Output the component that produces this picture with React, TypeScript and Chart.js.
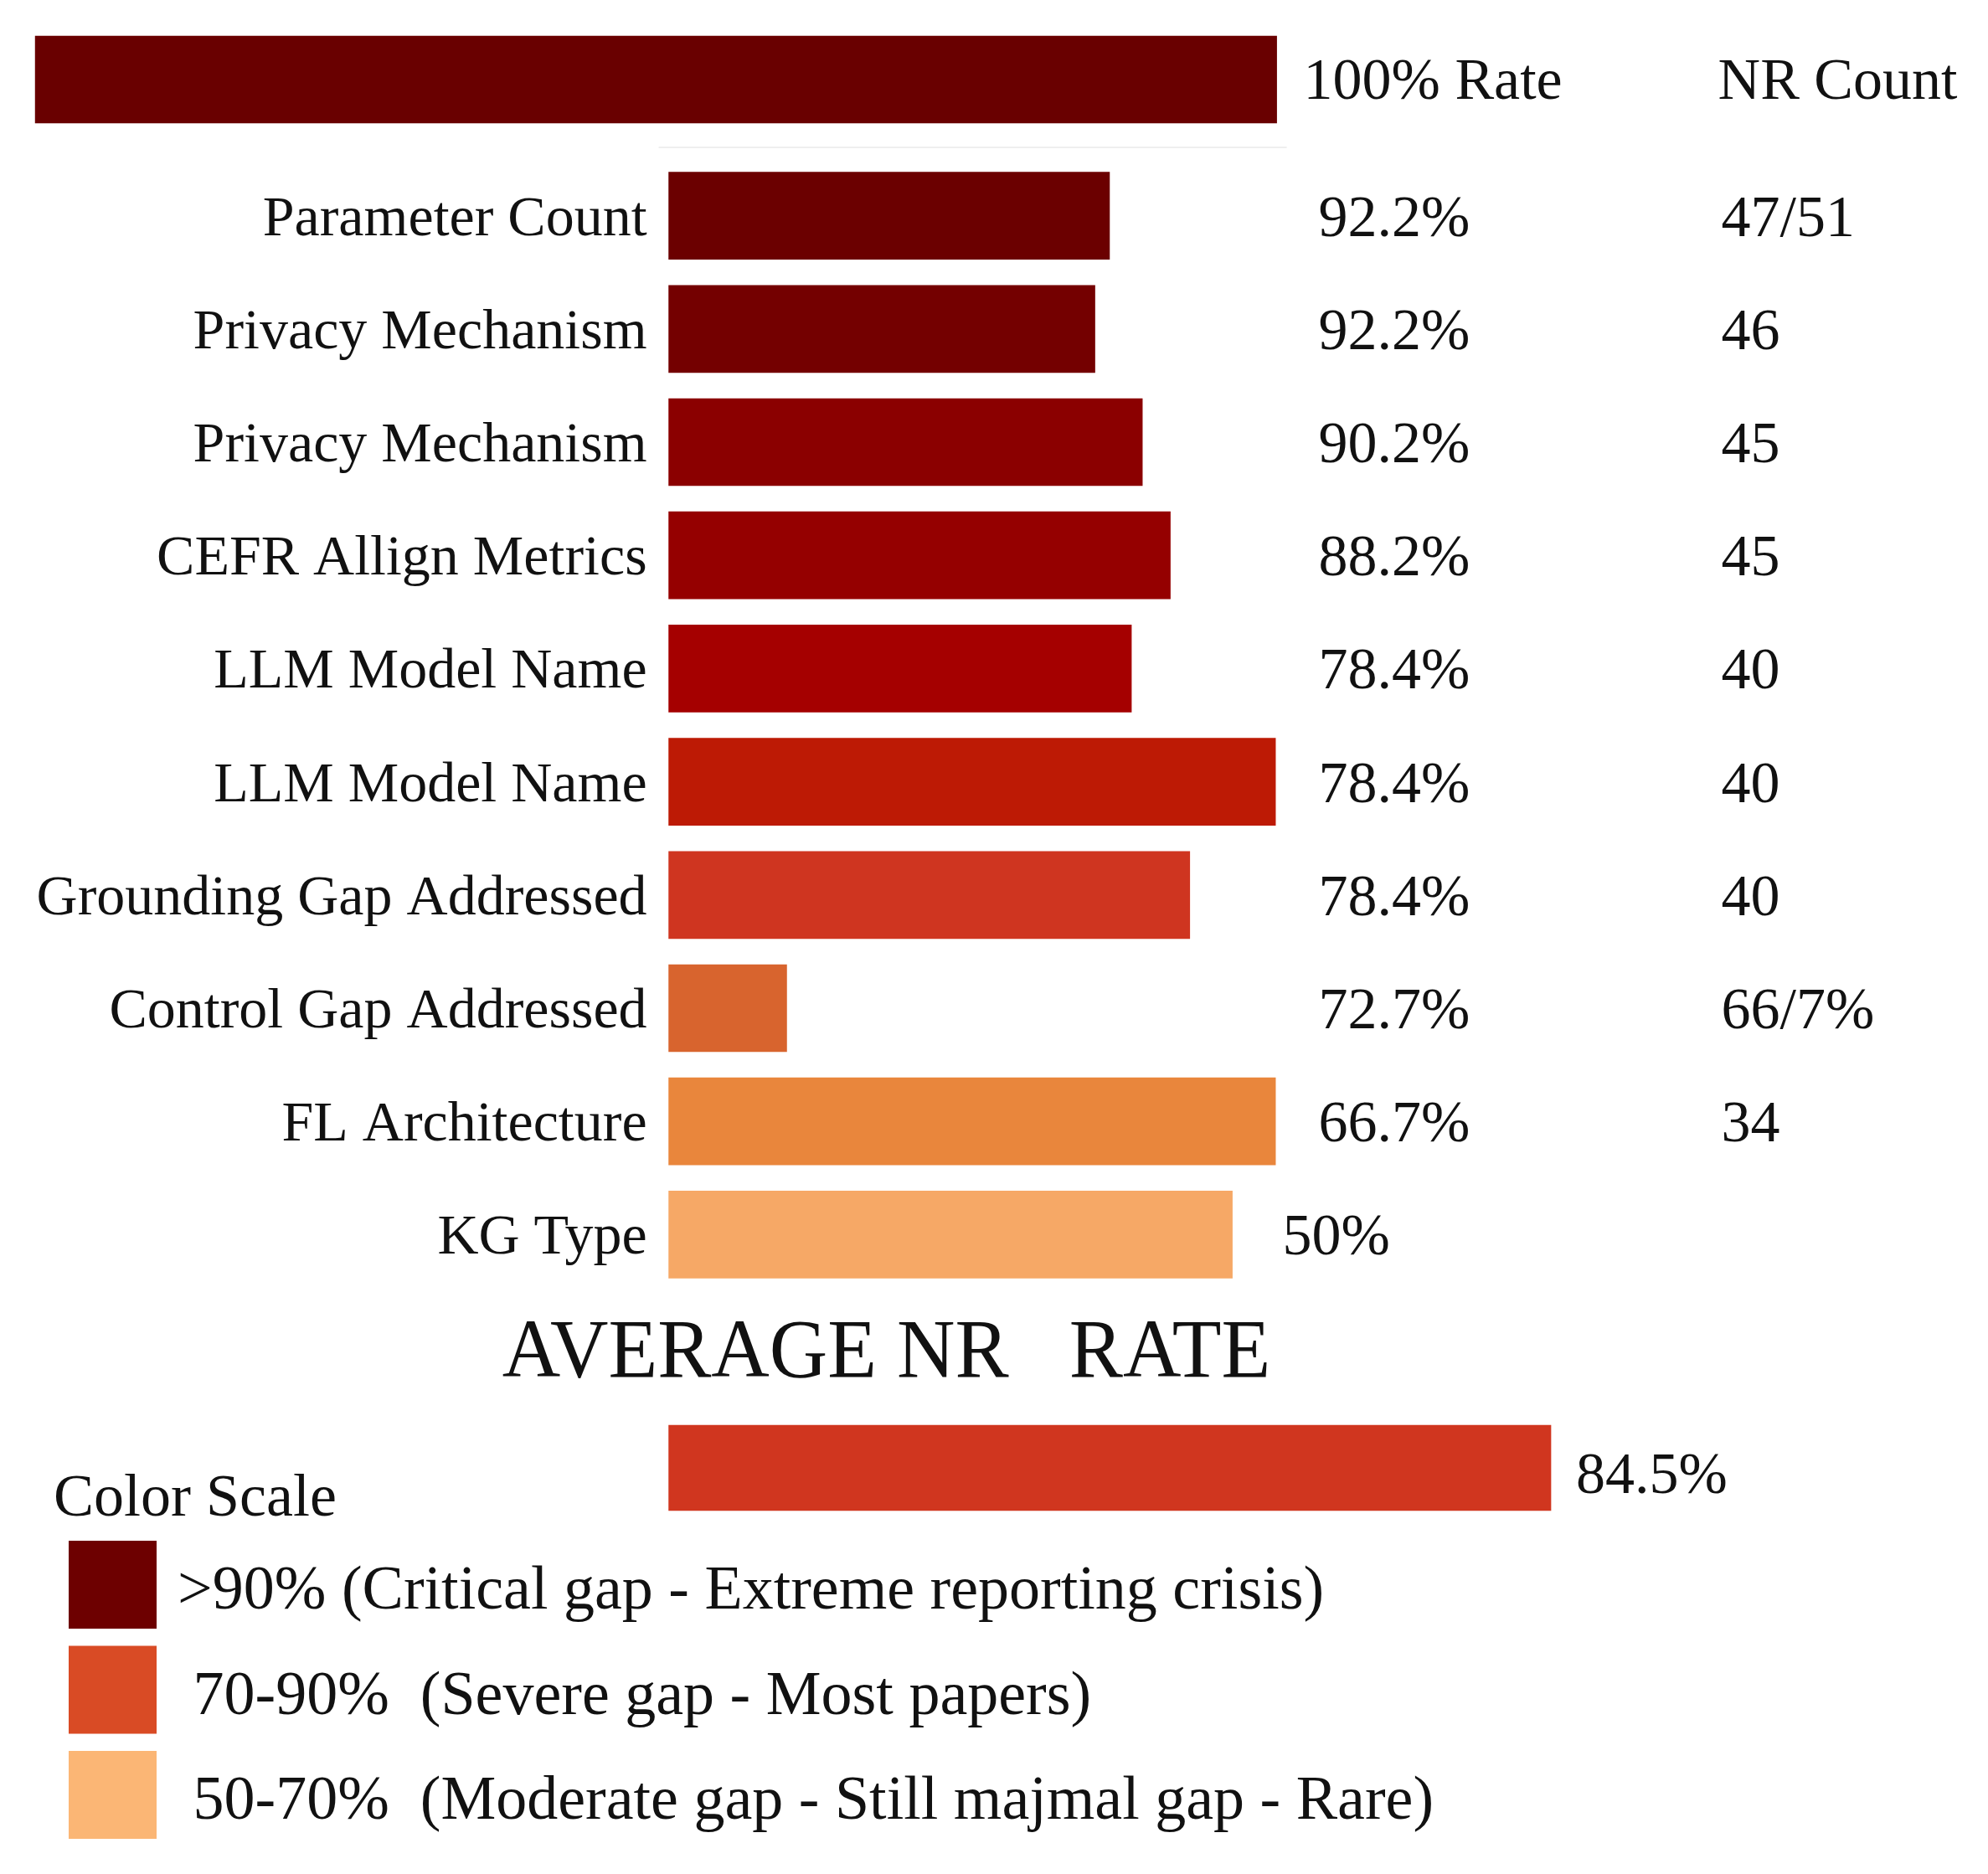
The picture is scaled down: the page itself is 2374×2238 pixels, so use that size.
import { useEffect, useRef } from 'react';
import { Chart, registerables } from 'chart.js';

Chart.register(...registerables);

// rows, top to bottom
const rowLabels = [
  'Parameter Count',
  'Privacy Mechanism',
  'Privacy Mechanism',
  'CEFR Allign Metrics',
  'LLM Model Name',
  'LLM Model Name',
  'Grounding Gap Addressed',
  'Control Gap Addressed',
  'FL Architecture',
  'KG Type',
];
// bar lengths as drawn, on a scale where the "100% Rate" bar ends at 100
const barLengths = [72.5, 70.1, 77.9, 82.5, 76.1, 99.8, 85.7, 19.4, 99.8, 92.7];
const rateLabels = ['92.2%', '92.2%', '90.2%', '88.2%', '78.4%', '78.4%', '78.4%', '72.7%', '66.7%', '50%'];
const countLabels = ['47/51', '46', '45', '45', '40', '40', '40', '66/7%', '34', ''];
const rowColors = [
  '#6b0000', '#740000', '#8b0000', '#950000', '#a50000',
  '#bd1a05', '#cf3520', '#d8642e', '#e9863c', '#f6a866',
];

const headerBar = [-104.2, 100];
const headerRateLabel = '100% Rate';
const headerCountLabel = 'NR Count';
const headerColor = '#690000';

const averageTitle = 'AVERAGE NR   RATE';
const averageLength = 145.1;
const averageLabel = '84.5%';
const averageColor = '#d0361f';

const scaleTitle = 'Color Scale';
const scaleItems = [
  '>90% (Critical gap - Extreme reporting crisis)',
  ' 70-90%  (Severe gap - Most papers)',
  ' 50-70%  (Moderate gap - Still majmal gap - Rare)',
];
const scaleColors = ['#6d0000', '#d94b25', '#fbb675'];

const SERIF = "'Liberation Serif', 'Times New Roman', serif";
const INK = '#111111';

function drawText(ctx, str, x, y, size, align = 'left', squeeze = 1) {
  ctx.save();
  ctx.font = `${size}px ${SERIF}`;
  ctx.fillStyle = INK;
  ctx.textAlign = align;
  ctx.textBaseline = 'alphabetic';
  ctx.translate(x, y);
  ctx.scale(squeeze, 1);
  ctx.fillText(str, 0, 0);
  ctx.restore();
}

const nrAnnotations = {
  id: 'nrAnnotations',
  afterDatasetsDraw(chart) {
    const { ctx } = chart;
    const x = chart.scales.x;
    const yHead = chart.scales.yHead;
    const yMain = chart.scales.yMain;
    const yAvg = chart.scales.yAvg;
    const x0 = x.getPixelForValue(0);
    const x100 = x.getPixelForValue(100);

    // header row
    const hy = yHead.getPixelForValue(0);
    drawText(ctx, headerRateLabel, x100 + 32, hy + 23, 70);
    drawText(ctx, headerCountLabel, x100 + 527, hy + 23, 70);

    // faint rule under the header
    ctx.save();
    ctx.strokeStyle = '#efefef';
    ctx.lineWidth = 2;
    ctx.beginPath();
    ctx.moveTo(x0 - 12, yHead.bottom - 14);
    ctx.lineTo(x100 + 12, yHead.bottom - 14);
    ctx.stroke();
    ctx.restore();

    rowLabels.forEach((label, i) => {
      const cy = yMain.getPixelForValue(i);
      drawText(ctx, label, x0 - 26, cy + 23, 68, 'right');
      const rateX = countLabels[i] ? x100 + 50 : x.getPixelForValue(barLengths[i]) + 60;
      drawText(ctx, rateLabels[i], rateX, cy + 24, 70);
      if (countLabels[i]) drawText(ctx, countLabels[i], x100 + 531, cy + 24, 70);
    });

    const ay = yAvg.getPixelForValue(0);
    drawText(ctx, averageTitle, x0 + 260, ay - 109, 100, 'center', 0.962);
    drawText(ctx, averageLabel, x.getPixelForValue(averageLength) + 30, ay + 30, 70);

    // colour scale key
    drawText(ctx, scaleTitle, 64, ay + 57, 72);
    scaleItems.forEach((item, i) => {
      const top = ay + 87 + i * 125.5;
      ctx.fillStyle = scaleColors[i];
      ctx.fillRect(82, top, 105, 105);
      drawText(ctx, item, 212, top + 81, 74);
    });
  },
};

export default function App() {
  const canvasRef = useRef<HTMLCanvasElement>(null);

  useEffect(() => {
    if (!canvasRef.current) return;

    // each dataset lives on its own y axis, so no side-by-side grouping
    const common = { grouped: false, borderWidth: 0, barThickness: 104 };

    const chart = new Chart(canvasRef.current, {
      type: 'bar',
      data: {
        datasets: [
          { ...common, label: headerRateLabel, yAxisID: 'yHead', data: [headerBar], backgroundColor: headerColor },
          { ...common, label: 'NR rate', yAxisID: 'yMain', data: barLengths, backgroundColor: rowColors },
          { ...common, label: averageTitle, yAxisID: 'yAvg', data: [averageLength], backgroundColor: averageColor, barThickness: 102 },
        ],
      },
      options: {
        indexAxis: 'y',
        animation: false,
        responsive: true,
        maintainAspectRatio: false,
        events: [],
        layout: { padding: { top: 0, left: 0, right: 0, bottom: 274 } },
        plugins: {
          legend: { display: false },
          tooltip: { enabled: false },
        },
        scales: {
          x: { type: 'linear', min: -110, max: 217, display: false },
          // three stacked category axes: header row, the ten rows, average row
          yHead: {
            type: 'category', labels: ['header'], position: 'left',
            stack: 'rows', stackWeight: 190, weight: 3, offset: true, display: false,
          },
          yMain: {
            type: 'category', labels: rowLabels, position: 'left',
            stack: 'rows', stackWeight: 1352, weight: 2, offset: true, display: false,
          },
          yAvg: {
            type: 'category', labels: ['average'], position: 'left',
            stack: 'rows', stackWeight: 422, weight: 1, offset: true, display: false,
          },
        },
      },
      plugins: [nrAnnotations],
    });

    return () => chart.destroy();
  }, []);

  return (
    <div style={{ position: 'fixed', left: 0, top: 0, width: 2374, height: 2238, background: '#ffffff' }}>
      <canvas ref={canvasRef} />
    </div>
  );
}
